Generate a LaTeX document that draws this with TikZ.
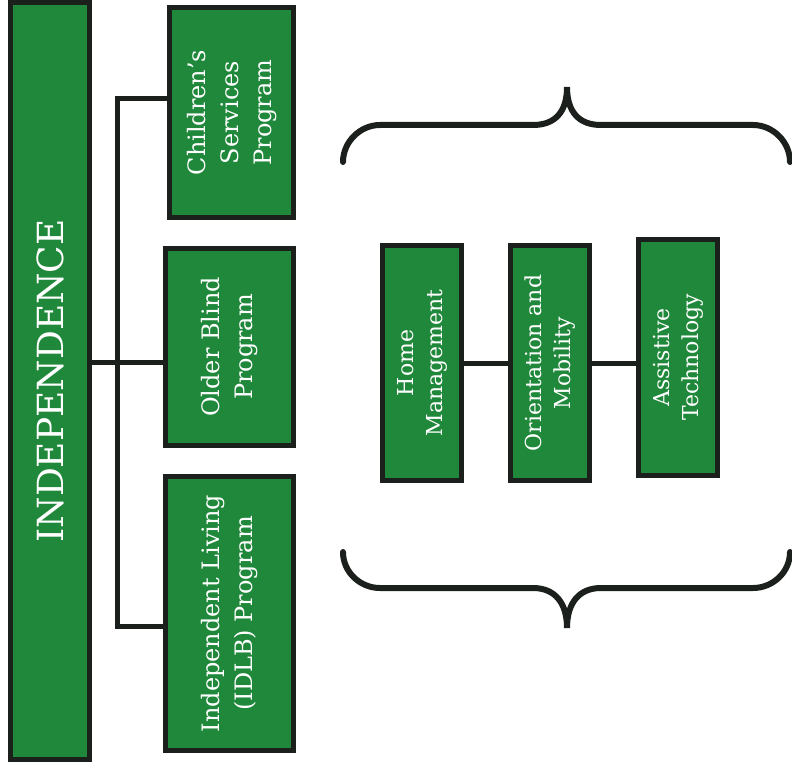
\documentclass[tikz,border=0pt]{standalone}
\usepackage{graphicx}
\usepackage{fontspec}
\setmainfont{DejaVu Serif}
\definecolor{boxgreen}{RGB}{32,136,58}
\definecolor{ink}{RGB}{28,32,28}
\newcommand{\vtxt}[1]{\rotatebox{90}{\begin{tabular}{@{}c@{}}#1\end{tabular}}}
\begin{document}
\begin{tikzpicture}[x=1pt,y=-1pt,
  gbox/.style={draw=ink, line width=5pt, fill=boxgreen, text=white, inner sep=0pt,
    font=\fontsize{24}{33}\selectfont},
  sbox/.style={gbox, font=\fontsize{22}{29}\selectfont},
  conn/.style={draw=ink, line width=5pt},
  bracepath/.style={draw=ink, line width=6pt, line cap=round}]
\useasboundingbox (0,0) rectangle (792,770);
\fill[white] (0,0) rectangle (792,770);
% main column
\node[gbox, minimum width=79pt, minimum height=757pt, font=\fontsize{36}{40}\selectfont] (ind) at (50,381) {\rotatebox{90}{INDEPENDENCE}};
% programs
\node[gbox, minimum width=124pt, minimum height=210pt] (cs) at (231.5,112.5) {\vtxt{Children’s\\Services\\Program}};
\node[gbox, minimum width=128pt, minimum height=197pt] (ob) at (229.5,347) {\vtxt{Older Blind\\Program}};
\node[gbox, minimum width=128pt, minimum height=274pt] (il) at (229.5,613.5) {\vtxt{Independent Living\\(IDLB) Program}};
% services
\node[sbox, minimum width=79pt, minimum height=235pt] (hm) at (422,363) {\vtxt{Home\\Management}};
\node[sbox, minimum width=79pt, minimum height=235pt] (om) at (550,363) {\vtxt{Orientation and\\Mobility}};
\node[sbox, minimum width=79pt, minimum height=236pt] (at) at (678,357.5) {\vtxt{Assistive\\Technology}};
% connectors
\coordinate (jt) at (117,99);
\coordinate (jm) at (117,362);
\coordinate (jb) at (117,626);
\draw[conn] (cs.west |- jt) -- (jt) -- (jb) -- (il.west |- jb);
\draw[conn] (ind.east |- jm) -- (ob.west |- jm);
\draw[conn] (hm.east) -- (om.west);
\draw[conn] (om.east) -- (at.west |- om.east);
% braces
\draw[bracepath] (343,162) .. controls (343,142) and (360,125) .. (380,125)
  -- (533,125) .. controls (555,125) and (567,112) .. (567,87)
  .. controls (567,112) and (579,125) .. (601,125)
  -- (753,125) .. controls (773,125) and (790,142) .. (790,162);
\draw[bracepath] (343,552) .. controls (343,572) and (360,588) .. (380,588)
  -- (533,588) .. controls (555,588) and (567,603) .. (567,628)
  .. controls (567,603) and (579,588) .. (601,588)
  -- (753,588) .. controls (773,588) and (790,572) .. (790,552);
\end{tikzpicture}
\end{document}
